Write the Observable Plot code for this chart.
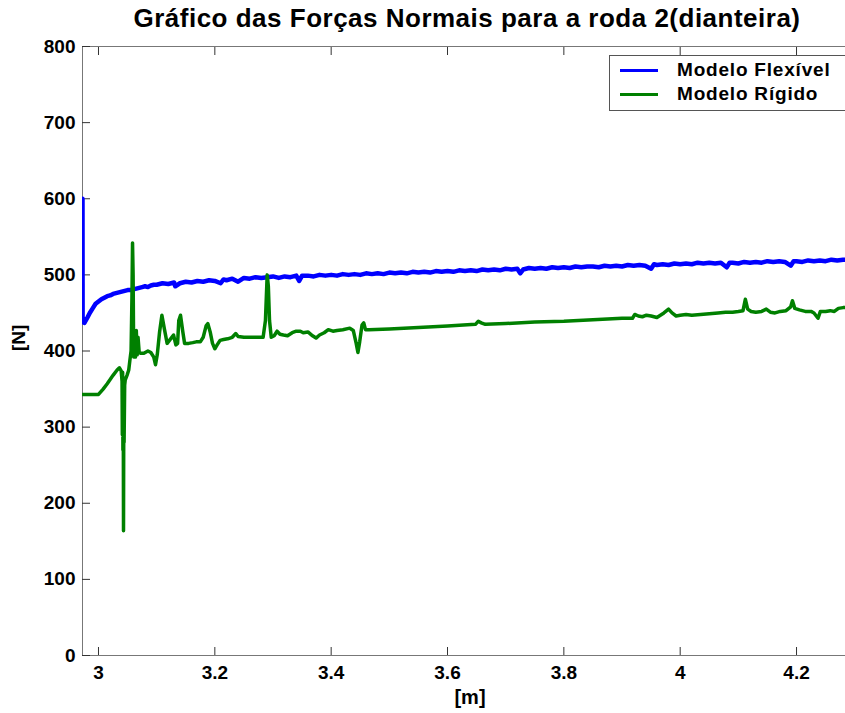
<!DOCTYPE html>
<html>
<head>
<meta charset="utf-8">
<script src="https://cdn.jsdelivr.net/npm/d3@7"></script>
<script src="https://cdn.jsdelivr.net/npm/@observablehq/plot@0.6"></script>
<style>
  html, body { margin: 0; padding: 0; background: #fff; overflow: hidden; }
  #wrap { position: relative; width: 845px; height: 713px; overflow: hidden; font-family: "Liberation Sans", Arial, sans-serif; }
  #title { position: absolute; top: 3px; left: 467px; transform: translateX(-50%); white-space: nowrap; font-weight: bold; font-size: 26px; letter-spacing: 0.5px; color: #000; }
  #legend { position: absolute; left: 609px; top: 55px; width: 260px; height: 54px; border: 1px solid #555; background: #fff; }
  .li { position: absolute; left: 0; height: 24px; display: flex; align-items: center; }
  .sw { display: inline-block; margin-left: 10px; width: 38px; height: 3px; }
  .lt { margin-left: 19px; font-weight: bold; font-size: 19px; letter-spacing: 0.8px; color: #000; }
</style>
</head>
<body>
<div id="wrap">
  <div id="chart"></div>
  <div id="title"></div>
  <div id="legend"></div>
</div>
<script>
// ---------- data ----------
const titleText = "Gráfico das Forças Normais para a roda 2(dianteira)";
const xLabel = "[m]";
const yLabel = "[N]";
const seriesNames = ["Modelo Flexível", "Modelo Rígido"];
const seriesColors = ["#0000ff", "#008000"];

const xTicks = [3, 3.2, 3.4, 3.6, 3.8, 4, 4.2];
const xTickLabels = ["3", "3.2", "3.4", "3.6", "3.8", "4", "4.2"];
const yTicks = [0, 100, 200, 300, 400, 500, 600, 700, 800];
const xDomain = [2.9725, 4.2842];
const yDomain = [0, 800];

// Modelo Flexível [x (m), N]
const flexivel = [
  [2.9725,600],[2.9727,438],[2.976,437],[2.978,440],[2.981,444],[2.985,450],[2.99,456],[2.995,462],
  [3.0,465],[3.005,468],[3.01,470],[3.015,472],[3.02,473],[3.025,475],[3.03,476],[3.035,477],
  [3.04,478],[3.045,479],[3.05,480],[3.055,480],[3.06,481],[3.065,482],[3.07,483],[3.075,484],
  [3.08,485],[3.085,484],[3.09,486],[3.095,487],
  [3.10,487],[3.11,489],[3.12,488],[3.13,490],[3.132,485],[3.14,489],[3.15,491],[3.16,490],[3.17,492],
  [3.18,491],[3.19,493],[3.20,492],[3.21,489],[3.215,494],[3.22,493],[3.23,495],[3.24,491],[3.25,496],
  [3.26,495],[3.27,497],[3.28,496],[3.29,497],[3.30,498],[3.31,496],[3.32,498],[3.33,497],[3.34,499],
  [3.345,492],[3.35,499],[3.36,499],[3.37,498],[3.38,500],[3.39,499],[3.40,500],[3.41,499],[3.42,501],
  [3.43,500],[3.44,501],[3.45,500],[3.46,502],[3.47,501],[3.48,502],[3.49,501],[3.50,503],[3.51,502],
  [3.52,503],[3.53,502],[3.54,504],[3.55,503],[3.56,504],[3.57,503],[3.58,505],[3.59,504],[3.60,505],
  [3.61,504],[3.62,506],[3.63,505],[3.64,506],[3.65,505],[3.66,507],[3.67,506],[3.68,507],[3.69,506],
  [3.70,508],[3.71,507],[3.72,508],[3.725,502],[3.73,507],[3.74,509],[3.75,508],[3.76,509],[3.77,508],
  [3.78,510],[3.79,509],[3.80,510],[3.81,509],[3.82,511],[3.83,510],[3.84,511],[3.85,511],[3.86,510],
  [3.87,512],[3.88,511],[3.89,512],[3.90,511],[3.91,513],[3.92,512],[3.93,513],[3.94,512],[3.95,508],
  [3.955,514],[3.96,513],[3.97,514],[3.98,513],[3.99,515],[4.00,514],[4.01,515],[4.02,514],[4.03,516],
  [4.04,515],[4.05,516],[4.06,515],[4.07,516],[4.08,510],[4.085,516],[4.09,516],[4.10,515],[4.11,517],
  [4.12,516],[4.13,517],[4.14,516],[4.15,518],[4.16,517],[4.17,518],[4.18,517],[4.19,512],[4.195,518],
  [4.20,518],[4.21,517],[4.22,519],[4.23,518],[4.24,519],[4.25,518],[4.26,520],[4.27,519],[4.28,520],[4.2842,520]
];

// Modelo Rígido [x (m), N]
const rigido = [
  [2.9725,343],[3.000,343],[3.008,350],[3.015,357],[3.025,368],[3.032,375],[3.036,378],[3.039,374],
  [3.0405,360],[3.041,290],[3.0415,372],[3.042,270],[3.0425,365],[3.043,164],[3.0435,330],[3.044,280],
  [3.045,355],[3.046,362],[3.049,368],[3.052,375],[3.054,388],[3.056,400],[3.0575,470],[3.0585,542],
  [3.0595,500],[3.0605,392],[3.062,415],[3.0635,392],[3.065,427],[3.0665,395],[3.068,418],[3.07,398],
  [3.073,397],[3.078,397],[3.085,400],[3.09,398],[3.095,392],[3.098,382],[3.101,395],[3.105,425],
  [3.109,447],[3.113,430],[3.118,410],[3.123,415],[3.129,421],[3.133,408],[3.136,410],[3.138,440],
  [3.141,447],[3.145,425],[3.148,410],[3.155,410],[3.162,411],[3.168,412],[3.175,412],[3.18,418],
  [3.185,433],[3.188,436],[3.192,425],[3.196,410],[3.2,403],[3.204,408],[3.209,414],[3.215,415],
  [3.222,416],[3.23,418],[3.236,423],[3.24,419],[3.25,418],[3.26,418],[3.27,418],[3.283,418],
  [3.287,440],[3.29,500],[3.292,485],[3.294,440],[3.297,418],[3.302,420],[3.307,426],[3.312,422],
  [3.318,421],[3.325,420],[3.333,424],[3.34,426],[3.347,426],[3.352,424],[3.36,425],[3.368,420],
  [3.374,417],[3.38,421],[3.388,424],[3.395,428],[3.403,426],[3.41,427],[3.42,428],[3.432,430],
  [3.438,427],[3.443,410],[3.446,398],[3.449,412],[3.453,434],[3.456,437],[3.459,428],[3.465,428],
  [3.5,429],[3.55,431],[3.6,433],[3.648,435],[3.653,439],[3.658,437],[3.665,435],[3.7,436],
  [3.75,438],[3.8,439],[3.85,441],[3.9,443],[3.918,443],[3.922,448],[3.928,446],[3.935,445],
  [3.942,447],[3.95,446],[3.96,444],[3.972,450],[3.98,455],[3.986,450],[3.993,446],[4.0,447],
  [4.01,448],[4.02,447],[4.035,448],[4.05,449],[4.065,450],[4.078,451],[4.09,451],[4.1,452],
  [4.108,453],[4.112,468],[4.116,455],[4.122,452],[4.13,451],[4.14,452],[4.148,455],[4.155,451],
  [4.163,450],[4.172,452],[4.182,453],[4.19,458],[4.193,466],[4.197,456],[4.205,454],[4.215,452],
  [4.225,452],[4.23,450],[4.237,443],[4.241,452],[4.25,452],[4.258,453],[4.265,452],[4.272,456],
  [4.28,457],[4.2842,457]
];

// ---------- chart ----------
const chart = Plot.plot({
  width: 845,
  height: 713,
  marginLeft: 82,
  marginRight: 0,
  marginTop: 46,
  marginBottom: 58,
  style: { fontFamily: "'Liberation Sans', Arial, sans-serif", fontSize: "19px", fontWeight: "bold", color: "#000", background: "#fff" },
  x: { domain: xDomain },
  y: { domain: yDomain },
  marks: [
    Plot.ruleY([yDomain[0]], { stroke: "#777", strokeWidth: 1 }),
    Plot.ruleY([yDomain[1]], { stroke: "#777", strokeWidth: 1 }),
    Plot.ruleX([xDomain[0]], { stroke: "#777", strokeWidth: 1 }),
    Plot.axisY({ ticks: yTicks, tickSize: -8, tickPadding: 15, stroke: "#333", label: null, fontSize: 19, fontWeight: "bold" }),
    Plot.axisX({ ticks: xTicks, tickSize: -8, tickPadding: 18, stroke: "#333", label: null, fontSize: 19, fontWeight: "bold",
      tickFormat: (d) => xTickLabels[xTicks.indexOf(d)] }),
    Plot.axisX({ anchor: "top", ticks: xTicks, tickSize: -8, stroke: "#333", label: null, tickFormat: () => "" }),
    Plot.line(flexivel, { x: d => d[0], y: d => d[1], stroke: seriesColors[0], strokeWidth: 4.5, clip: true, strokeLinejoin: "round" }),
    Plot.line(rigido, { x: d => d[0], y: d => d[1], stroke: seriesColors[1], strokeWidth: 3.5, clip: true, strokeLinejoin: "round" }),
    Plot.text([xLabel], { frameAnchor: "bottom", dx: 6, dy: 48, text: d => d, fontSize: 20, fontWeight: "bold" }),
    Plot.text([yLabel], { frameAnchor: "left", dx: -64, dy: 0, text: d => d, rotate: -90, fontSize: 19, fontWeight: "bold" })
  ]
});
document.getElementById("chart").appendChild(chart);
document.getElementById("title").textContent = titleText;

const legend = document.getElementById("legend");
seriesNames.forEach((name, i) => {
  const row = document.createElement("div");
  row.className = "li";
  row.style.top = (2 + i * 24) + "px";
  const sw = document.createElement("span");
  sw.className = "sw";
  sw.style.background = seriesColors[i];
  const t = document.createElement("span");
  t.className = "lt";
  t.textContent = name;
  row.appendChild(sw);
  row.appendChild(t);
  legend.appendChild(row);
});
</script>
</body>
</html>
